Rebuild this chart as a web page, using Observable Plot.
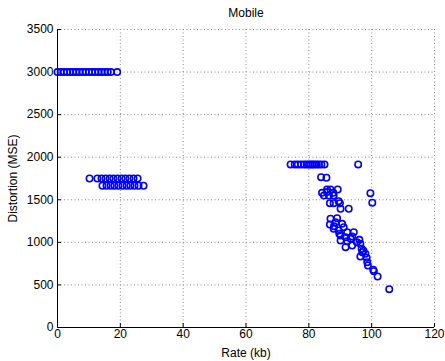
<!DOCTYPE html>
<html>
<head>
<meta charset="utf-8">
<script src="https://cdn.jsdelivr.net/npm/d3@7"></script>
<script src="https://cdn.jsdelivr.net/npm/@observablehq/plot@0.6"></script>
<style>
  html, body { margin: 0; padding: 0; background: #fff; }
</style>
</head>
<body>
<div id="chart"></div>
<script>
const title = "Mobile";
const xLabel = "Rate (kb)";
const yLabel = "Distortion (MSE)";
const xTicks = [0, 20, 40, 60, 80, 100, 120];
const yTicks = [0, 500, 1000, 1500, 2000, 2500, 3000, 3500];

// Cluster at distortion 3000
const rateA = [0, 1, 2, 3, 4, 5, 6, 7, 8, 9, 10, 11, 12, 13, 14, 15, 16, 17, 19];
const distA = [3000, 3000, 3000, 3000, 3000, 3000, 3000, 3000, 3000, 3000, 3000, 3000, 3000, 3000, 3000, 3000, 3000, 3000, 3000];

// Two rows around 1750 / 1665
const rateB = [10.2, 12.7, 14, 15.3, 16.6, 17.8, 19.1, 20.4, 21.6, 22.9, 24.2, 25.5,
               14.3, 15.6, 16.9, 18.1, 19.4, 20.7, 22, 23.2, 24.5, 25.8, 27.4];
const distB = [1750, 1750, 1750, 1750, 1750, 1750, 1750, 1750, 1750, 1750, 1750, 1750,
               1665, 1665, 1665, 1665, 1665, 1665, 1665, 1665, 1665, 1665, 1665];

// Row near 1915
const rateC = [74.2, 75.5, 76.5, 77.5, 78.5, 79.3, 80, 80.6, 81.2, 81.8, 82.5, 83.2, 84, 85, 95.7];
const distC = [1915, 1915, 1915, 1915, 1915, 1915, 1915, 1915, 1915, 1915, 1915, 1915, 1915, 1915, 1915];

// Descending cloud
const rateD = [83.9, 85.6, 85.8, 86.9, 89.2, 84.2, 85.8, 87.8, 84.8, 86.4, 87.9, 99.6, 100.2,
               86.7, 87.9, 89.5, 89.9, 90.1, 92.7,
               86.9, 89.0, 86.7, 88.5, 90.6, 87.9, 89.5, 91.1, 92.2, 94.3, 90.1, 91.7, 93.3, 93.8,
               90.1, 92.2, 93.8, 91.7, 96.1, 96.4, 96.8, 97.0, 96.4, 98.0, 98.4, 98.6, 98.8,
               100.5, 100.7, 101.9, 105.6, 88.0, 89.7, 95.3, 97.4];
const distD = [1766, 1759, 1621, 1621, 1621, 1582, 1590, 1582, 1550, 1550, 1550, 1578, 1465,
               1460, 1460, 1484, 1460, 1395, 1395,
               1277, 1284, 1210, 1237, 1218, 1159, 1139, 1178, 1120, 1120, 1081, 1061, 1042, 1069,
               1022, 1014, 963, 943, 1030, 983, 924, 884, 834, 866, 819, 767, 728,
               678, 661, 599, 450, 1190, 1100, 1000, 900];

const points = [];
for (const [rs, ds] of [[rateA, distA], [rateB, distB], [rateC, distC], [rateD, distD]]) {
  rs.forEach((r, i) => points.push({rate: r, dist: ds[i]}));
}

const W = 445, H = 361, mL = 57, mR = 11, mT = 29, mB = 34;
const plotW = W - mL - mR, plotH = H - mT - mB;

const chart = Plot.plot({
  width: W,
  height: H,
  marginLeft: mL,
  marginRight: mR,
  marginTop: mT,
  marginBottom: mB,
  style: {fontFamily: "'Liberation Sans', Arial, sans-serif", fontSize: "12px", color: "#000", background: "#fff"},
  x: {domain: [0, 120]},
  y: {domain: [0, 3500]},
  marks: [
    Plot.gridX(xTicks, {stroke: "#888", strokeOpacity: 1, strokeDasharray: "1,2.5"}),
    Plot.gridY(yTicks, {stroke: "#888", strokeOpacity: 1, strokeDasharray: "1,2.5"}),
    Plot.tickX(xTicks, {x: d => d, stroke: "#000", insetTop: plotH - 4}),
    Plot.tickY(yTicks, {y: d => d, stroke: "#000", insetRight: plotW - 4}),
    Plot.ruleY([0], {stroke: "#000"}),
    Plot.ruleX([0], {stroke: "#000"}),
    Plot.axisX(xTicks, {tickSize: 0, tickPadding: 2, tickFormat: d => String(d), label: xLabel, labelAnchor: "center", labelOffset: 29, labelArrow: false}),
    Plot.axisY(yTicks, {tickSize: 0, tickPadding: 4, tickFormat: d => String(d), label: yLabel, labelAnchor: "center", labelOffset: 49, labelArrow: false}),
    Plot.dot(points, {x: "rate", y: "dist", r: 3.2, stroke: "#0000ff", strokeWidth: 1.6, fill: "none"}),
    Plot.text([title], {frameAnchor: "top", dy: -21, text: d => d, fontSize: 12})
  ]
});
document.getElementById("chart").appendChild(chart);
</script>
</body>
</html>
